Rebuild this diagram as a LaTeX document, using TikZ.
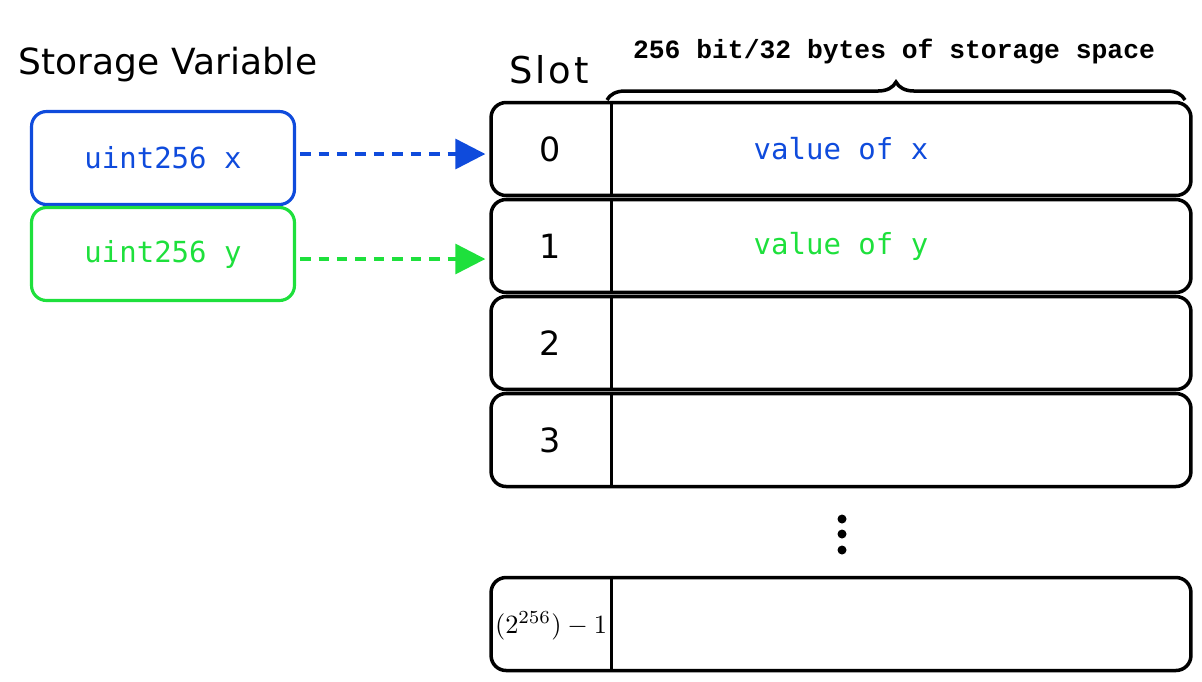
\documentclass[tikz,border=0pt]{standalone}
\usepackage{fontspec}
\setmainfont{DejaVu Sans}
\setmonofont{DejaVu Sans Mono}
\newfontfamily\headfont{Liberation Mono}
\usetikzlibrary{arrows.meta,decorations.pathreplacing,positioning}
\definecolor{varblue}{HTML}{0F4BDC}
\definecolor{vargreen}{HTML}{1EE03C}
\begin{document}
\begin{tikzpicture}[x=0.02cm,y=-0.02cm,
  var/.style={draw,line width=1.8pt,rounded corners=0.3cm,minimum width=5.26cm,minimum height=1.86cm,font=\ttfamily\fontsize{16.5}{18}\selectfont},
  row/.style={draw,line width=2pt,rounded corners=0.3cm,minimum width=14cm,minimum height=1.86cm,font=\ttfamily\fontsize{16.5}{18}\selectfont},
  slotnum/.style={font=\fontsize{19}{22}\selectfont},
  link/.style={line width=1.8pt,dash pattern=on 6pt off 4.5pt,-{Triangle[length=0.6cm,width=0.6cm]}}]
\useasboundingbox (0,0) rectangle (1202,681);
% left column
\node[font=\fontsize{20.5}{24}\selectfont] (title) at (168,65) {Storage Variable};
\node[var,draw=varblue,text=varblue] (vx) at (163,158) {uint256 x};
\node[var,draw=vargreen,text=vargreen] (vy) at (163,254) {uint256 y};
% slots
\node[font=\fontsize{21}{24}\selectfont\addfontfeature{LetterSpace=8}] (slot) at (549,70) {Slot};
\node[row,text=varblue] (r0) at (841,149) {value of x};
\node[row,text=vargreen] (r1) at (841,246) {value of y};
\node[row] (r2) at (841,343) {};
\node[row] (r3) at (841,440) {};
\node[row] (rn) at (841,624) {};
\foreach \r in {r0,r1,r2,r3,rn}
  \draw[line width=2pt] ([xshift=2.44cm]\r.north west) -- ([xshift=2.44cm]\r.south west);
\node[slotnum] (n0) at (550,149) {0};
\node[slotnum] (n1) at (550,246) {1};
\node[slotnum] (n2) at (550,343) {2};
\node[slotnum] (n3) at (550,440) {3};
\node[scale=1.5] (nn) at (551,626) {$(2^{256})-1$};
\foreach \d in {519,534,550}
  \fill (842,\d) circle (0.09cm);
% brace
\coordinate (bl) at (607,100);
\coordinate (br) at (1185,100);
\draw[line width=2pt,decorate,decoration={brace,amplitude=0.36cm}] (bl) -- (br);
\node[font=\headfont\bfseries\fontsize{15}{17}\selectfont] (head) at (894,52) {256 bit/32 bytes of storage space};
% links
\draw[link,varblue] ([xshift=0.08cm,yshift=0.08cm]vx.east) -- ([xshift=-0.08cm,yshift=0.08cm]vx.east -| r0.west);
\draw[link,vargreen] ([xshift=0.08cm,yshift=-0.1cm]vy.east) -- ([xshift=-0.08cm,yshift=-0.1cm]vy.east -| r1.west);
\end{tikzpicture}
\end{document}
